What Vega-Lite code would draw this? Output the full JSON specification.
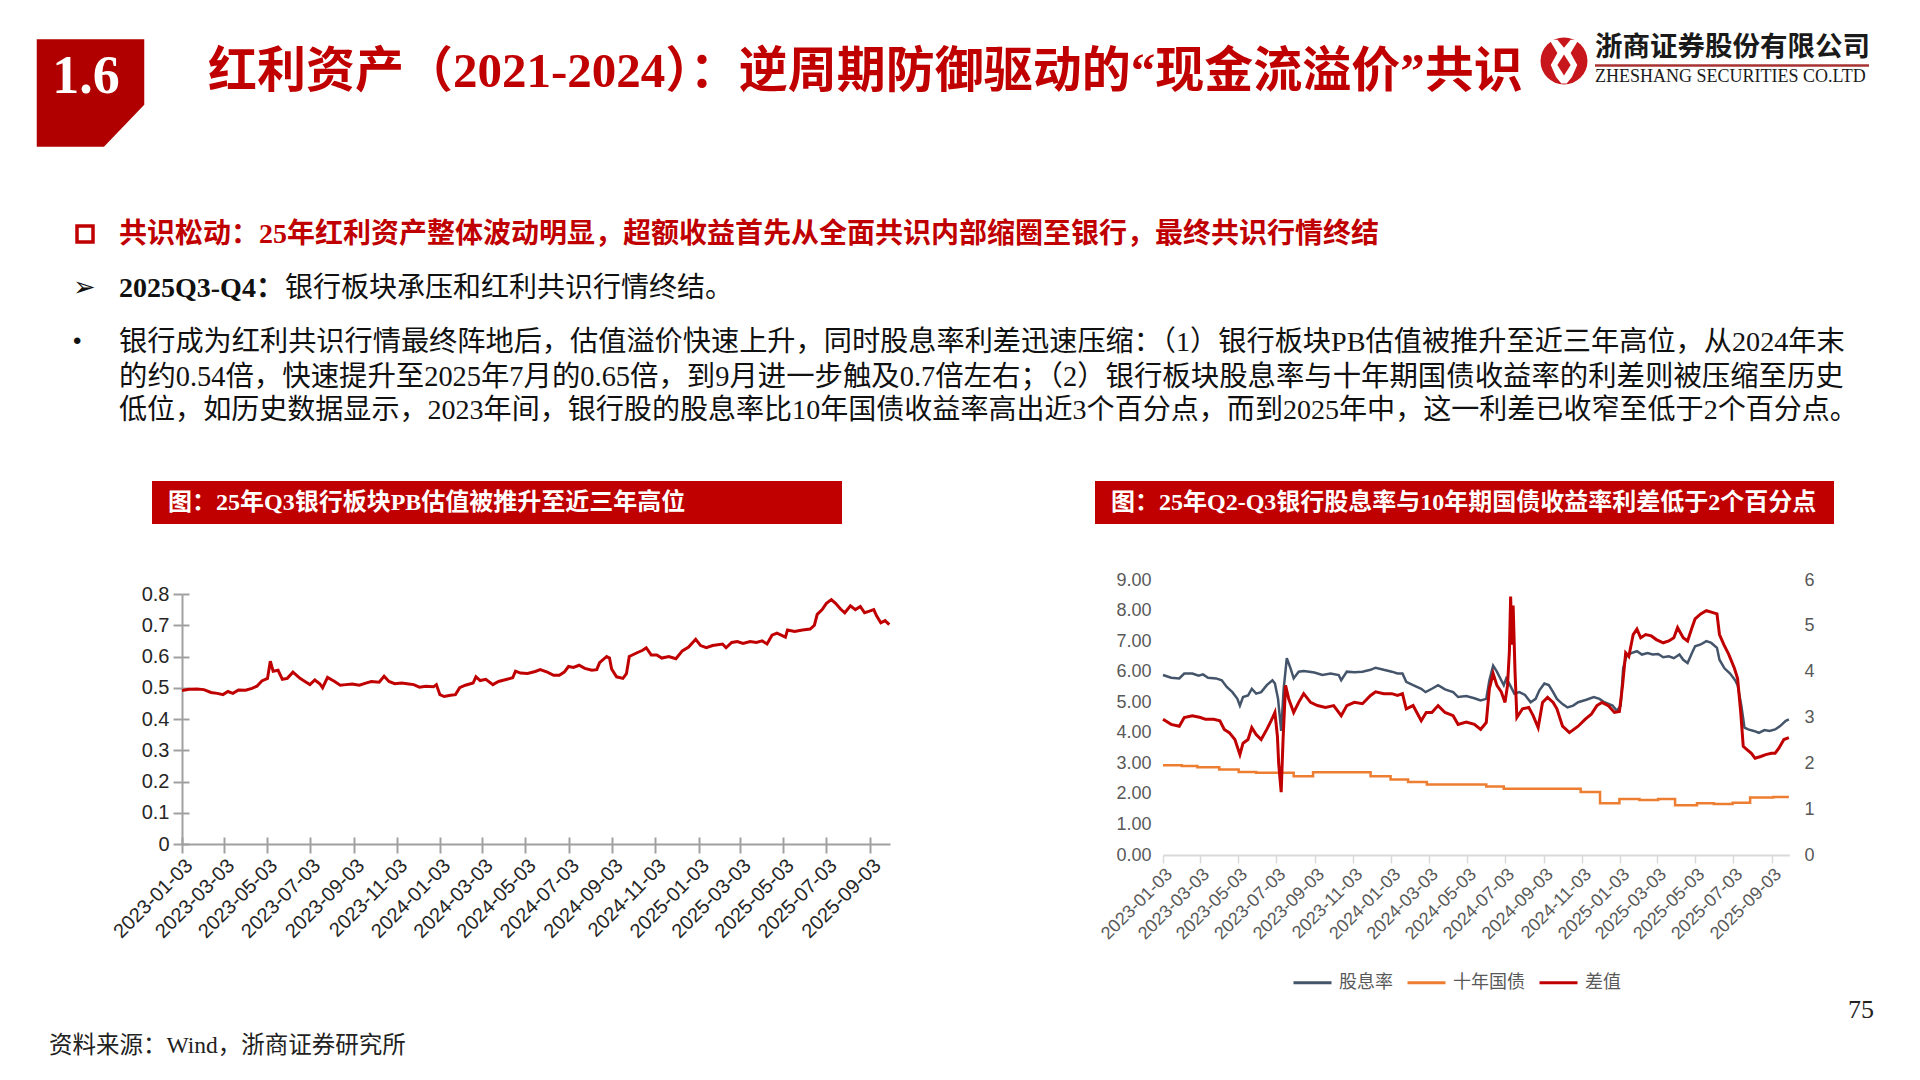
{
  "$schema": "https://vega.github.io/schema/vega-lite/v6.json",
  "width": 1920,
  "height": 1080,
  "autosize": "none",
  "padding": 0,
  "background": "white",
  "config": {"view": {"stroke": null}, "font": "Liberation Sans"},
  "datasets": {
    "pb": [
      {"date": "2023-01-03", "pb": 0.491}, {"date": "2023-01-13", "pb": 0.495}, {"date": "2023-01-24", "pb": 0.496},
      {"date": "2023-02-03", "pb": 0.494}, {"date": "2023-02-13", "pb": 0.485}, {"date": "2023-02-22", "pb": 0.482},
      {"date": "2023-03-02", "pb": 0.478}, {"date": "2023-03-09", "pb": 0.488}, {"date": "2023-03-16", "pb": 0.482},
      {"date": "2023-03-24", "pb": 0.493}, {"date": "2023-04-03", "pb": 0.492}, {"date": "2023-04-12", "pb": 0.498},
      {"date": "2023-04-19", "pb": 0.505}, {"date": "2023-04-26", "pb": 0.522}, {"date": "2023-05-04", "pb": 0.53},
      {"date": "2023-05-08", "pb": 0.585}, {"date": "2023-05-12", "pb": 0.553}, {"date": "2023-05-19", "pb": 0.556},
      {"date": "2023-05-25", "pb": 0.527}, {"date": "2023-06-01", "pb": 0.53}, {"date": "2023-06-09", "pb": 0.55},
      {"date": "2023-06-19", "pb": 0.53}, {"date": "2023-06-26", "pb": 0.52}, {"date": "2023-07-03", "pb": 0.51},
      {"date": "2023-07-10", "pb": 0.525}, {"date": "2023-07-17", "pb": 0.513}, {"date": "2023-07-21", "pb": 0.5},
      {"date": "2023-07-28", "pb": 0.533}, {"date": "2023-08-07", "pb": 0.52}, {"date": "2023-08-15", "pb": 0.508},
      {"date": "2023-08-23", "pb": 0.51}, {"date": "2023-09-01", "pb": 0.512}, {"date": "2023-09-11", "pb": 0.508},
      {"date": "2023-09-20", "pb": 0.515}, {"date": "2023-09-28", "pb": 0.52}, {"date": "2023-10-09", "pb": 0.518},
      {"date": "2023-10-16", "pb": 0.537}, {"date": "2023-10-23", "pb": 0.52}, {"date": "2023-10-31", "pb": 0.513},
      {"date": "2023-11-10", "pb": 0.515}, {"date": "2023-11-20", "pb": 0.512}, {"date": "2023-11-27", "pb": 0.51},
      {"date": "2023-12-05", "pb": 0.502}, {"date": "2023-12-14", "pb": 0.505}, {"date": "2023-12-25", "pb": 0.503},
      {"date": "2023-12-29", "pb": 0.51}, {"date": "2024-01-03", "pb": 0.478}, {"date": "2024-01-09", "pb": 0.472},
      {"date": "2024-01-18", "pb": 0.476}, {"date": "2024-01-25", "pb": 0.478}, {"date": "2024-01-31", "pb": 0.5},
      {"date": "2024-02-08", "pb": 0.508}, {"date": "2024-02-19", "pb": 0.515}, {"date": "2024-02-23", "pb": 0.535},
      {"date": "2024-02-29", "pb": 0.523}, {"date": "2024-03-08", "pb": 0.527}, {"date": "2024-03-18", "pb": 0.51},
      {"date": "2024-03-26", "pb": 0.52}, {"date": "2024-04-03", "pb": 0.525}, {"date": "2024-04-15", "pb": 0.532},
      {"date": "2024-04-19", "pb": 0.553}, {"date": "2024-04-26", "pb": 0.547}, {"date": "2024-05-06", "pb": 0.546},
      {"date": "2024-05-17", "pb": 0.552}, {"date": "2024-05-24", "pb": 0.558}, {"date": "2024-06-03", "pb": 0.55},
      {"date": "2024-06-12", "pb": 0.54}, {"date": "2024-06-20", "pb": 0.54}, {"date": "2024-06-27", "pb": 0.55},
      {"date": "2024-07-03", "pb": 0.568}, {"date": "2024-07-10", "pb": 0.565}, {"date": "2024-07-18", "pb": 0.572},
      {"date": "2024-07-26", "pb": 0.562}, {"date": "2024-08-05", "pb": 0.556}, {"date": "2024-08-12", "pb": 0.558},
      {"date": "2024-08-16", "pb": 0.58}, {"date": "2024-08-26", "pb": 0.6}, {"date": "2024-08-30", "pb": 0.595},
      {"date": "2024-09-02", "pb": 0.56}, {"date": "2024-09-09", "pb": 0.535}, {"date": "2024-09-18", "pb": 0.53},
      {"date": "2024-09-23", "pb": 0.545}, {"date": "2024-09-27", "pb": 0.6}, {"date": "2024-10-08", "pb": 0.612},
      {"date": "2024-10-16", "pb": 0.62}, {"date": "2024-10-21", "pb": 0.628}, {"date": "2024-10-28", "pb": 0.605},
      {"date": "2024-11-05", "pb": 0.605}, {"date": "2024-11-12", "pb": 0.595}, {"date": "2024-11-22", "pb": 0.6},
      {"date": "2024-12-02", "pb": 0.593}, {"date": "2024-12-11", "pb": 0.618}, {"date": "2024-12-20", "pb": 0.63},
      {"date": "2024-12-30", "pb": 0.655}, {"date": "2025-01-06", "pb": 0.635}, {"date": "2025-01-14", "pb": 0.628},
      {"date": "2025-01-23", "pb": 0.635}, {"date": "2025-02-06", "pb": 0.64}, {"date": "2025-02-11", "pb": 0.628},
      {"date": "2025-02-19", "pb": 0.645}, {"date": "2025-02-27", "pb": 0.648}, {"date": "2025-03-07", "pb": 0.642},
      {"date": "2025-03-17", "pb": 0.648}, {"date": "2025-03-26", "pb": 0.645}, {"date": "2025-04-03", "pb": 0.65},
      {"date": "2025-04-10", "pb": 0.64}, {"date": "2025-04-17", "pb": 0.668}, {"date": "2025-04-24", "pb": 0.675},
      {"date": "2025-05-06", "pb": 0.662}, {"date": "2025-05-09", "pb": 0.685}, {"date": "2025-05-19", "pb": 0.68},
      {"date": "2025-05-30", "pb": 0.685}, {"date": "2025-06-10", "pb": 0.688}, {"date": "2025-06-16", "pb": 0.7},
      {"date": "2025-06-20", "pb": 0.735}, {"date": "2025-06-27", "pb": 0.75}, {"date": "2025-07-03", "pb": 0.77},
      {"date": "2025-07-10", "pb": 0.782}, {"date": "2025-07-16", "pb": 0.77}, {"date": "2025-07-23", "pb": 0.752},
      {"date": "2025-07-29", "pb": 0.74}, {"date": "2025-08-06", "pb": 0.762}, {"date": "2025-08-13", "pb": 0.75},
      {"date": "2025-08-20", "pb": 0.76}, {"date": "2025-08-26", "pb": 0.74}, {"date": "2025-09-02", "pb": 0.745},
      {"date": "2025-09-08", "pb": 0.75}, {"date": "2025-09-12", "pb": 0.73}, {"date": "2025-09-18", "pb": 0.708},
      {"date": "2025-09-24", "pb": 0.715}, {"date": "2025-09-30", "pb": 0.702}
    ],
    "dividend": [
      {"date": "2023-01-03", "v": 5.89}, {"date": "2023-01-16", "v": 5.8}, {"date": "2023-01-29", "v": 5.78},
      {"date": "2023-02-06", "v": 5.94}, {"date": "2023-02-19", "v": 5.94}, {"date": "2023-03-01", "v": 5.87},
      {"date": "2023-03-08", "v": 5.91}, {"date": "2023-03-16", "v": 5.8}, {"date": "2023-03-29", "v": 5.78},
      {"date": "2023-04-07", "v": 5.72}, {"date": "2023-04-15", "v": 5.5}, {"date": "2023-04-24", "v": 5.33},
      {"date": "2023-05-02", "v": 5.11}, {"date": "2023-05-06", "v": 4.89}, {"date": "2023-05-11", "v": 5.17},
      {"date": "2023-05-19", "v": 5.22}, {"date": "2023-05-25", "v": 5.44}, {"date": "2023-06-01", "v": 5.28},
      {"date": "2023-06-09", "v": 5.33}, {"date": "2023-06-18", "v": 5.56}, {"date": "2023-06-27", "v": 5.72},
      {"date": "2023-07-01", "v": 5.61}, {"date": "2023-07-06", "v": 5.11}, {"date": "2023-07-11", "v": 4.06},
      {"date": "2023-07-15", "v": 5.44}, {"date": "2023-07-20", "v": 6.44}, {"date": "2023-07-26", "v": 6.11},
      {"date": "2023-07-31", "v": 5.78}, {"date": "2023-08-08", "v": 6.0}, {"date": "2023-08-16", "v": 6.02},
      {"date": "2023-08-25", "v": 6.0}, {"date": "2023-09-02", "v": 5.97}, {"date": "2023-09-15", "v": 5.89},
      {"date": "2023-09-28", "v": 5.94}, {"date": "2023-10-11", "v": 5.89}, {"date": "2023-10-15", "v": 5.72},
      {"date": "2023-10-24", "v": 6.0}, {"date": "2023-11-05", "v": 5.98}, {"date": "2023-11-18", "v": 6.0},
      {"date": "2023-12-01", "v": 6.06}, {"date": "2023-12-09", "v": 6.13}, {"date": "2023-12-22", "v": 6.06},
      {"date": "2024-01-04", "v": 6.0}, {"date": "2024-01-13", "v": 5.94}, {"date": "2024-01-21", "v": 5.94},
      {"date": "2024-01-27", "v": 5.67}, {"date": "2024-02-07", "v": 5.56}, {"date": "2024-02-20", "v": 5.44},
      {"date": "2024-02-27", "v": 5.33}, {"date": "2024-03-08", "v": 5.44}, {"date": "2024-03-18", "v": 5.56},
      {"date": "2024-03-29", "v": 5.42}, {"date": "2024-04-11", "v": 5.33}, {"date": "2024-04-19", "v": 5.17},
      {"date": "2024-05-02", "v": 5.2}, {"date": "2024-05-15", "v": 5.13}, {"date": "2024-05-25", "v": 5.06},
      {"date": "2024-06-03", "v": 5.11}, {"date": "2024-06-08", "v": 5.72}, {"date": "2024-06-14", "v": 6.2},
      {"date": "2024-06-20", "v": 6.0}, {"date": "2024-06-27", "v": 5.72}, {"date": "2024-07-01", "v": 5.56},
      {"date": "2024-07-05", "v": 5.78}, {"date": "2024-07-10", "v": 5.6}, {"date": "2024-07-18", "v": 5.28},
      {"date": "2024-07-26", "v": 5.33}, {"date": "2024-08-04", "v": 5.24}, {"date": "2024-08-13", "v": 5.0},
      {"date": "2024-08-21", "v": 5.11}, {"date": "2024-08-27", "v": 5.39}, {"date": "2024-09-04", "v": 5.61},
      {"date": "2024-09-11", "v": 5.56}, {"date": "2024-09-18", "v": 5.33}, {"date": "2024-09-24", "v": 5.11},
      {"date": "2024-10-03", "v": 4.94}, {"date": "2024-10-11", "v": 4.83}, {"date": "2024-10-20", "v": 4.89},
      {"date": "2024-10-28", "v": 5.0}, {"date": "2024-11-10", "v": 5.08}, {"date": "2024-11-22", "v": 5.17},
      {"date": "2024-12-01", "v": 5.11}, {"date": "2024-12-09", "v": 5.0}, {"date": "2024-12-22", "v": 4.89},
      {"date": "2024-12-29", "v": 4.72}, {"date": "2025-01-04", "v": 4.89}, {"date": "2025-01-08", "v": 6.11},
      {"date": "2025-01-13", "v": 6.5}, {"date": "2025-01-21", "v": 6.61}, {"date": "2025-01-30", "v": 6.67},
      {"date": "2025-02-07", "v": 6.56}, {"date": "2025-02-16", "v": 6.61}, {"date": "2025-02-24", "v": 6.56},
      {"date": "2025-03-05", "v": 6.58}, {"date": "2025-03-13", "v": 6.47}, {"date": "2025-03-22", "v": 6.5},
      {"date": "2025-03-30", "v": 6.44}, {"date": "2025-04-08", "v": 6.56}, {"date": "2025-04-14", "v": 6.39},
      {"date": "2025-04-21", "v": 6.28}, {"date": "2025-04-28", "v": 6.61}, {"date": "2025-05-03", "v": 6.83},
      {"date": "2025-05-12", "v": 6.89}, {"date": "2025-05-21", "v": 7.0}, {"date": "2025-05-29", "v": 6.94},
      {"date": "2025-06-07", "v": 6.78}, {"date": "2025-06-11", "v": 6.39}, {"date": "2025-06-19", "v": 6.11},
      {"date": "2025-06-28", "v": 5.94}, {"date": "2025-07-06", "v": 5.72}, {"date": "2025-07-10", "v": 5.56},
      {"date": "2025-07-16", "v": 4.89}, {"date": "2025-07-21", "v": 4.17}, {"date": "2025-07-27", "v": 4.11},
      {"date": "2025-08-05", "v": 4.06}, {"date": "2025-08-13", "v": 4.0}, {"date": "2025-08-22", "v": 4.09},
      {"date": "2025-08-30", "v": 4.06}, {"date": "2025-09-08", "v": 4.11}, {"date": "2025-09-16", "v": 4.22},
      {"date": "2025-09-25", "v": 4.39}, {"date": "2025-09-30", "v": 4.44}
    ],
    "bond": [
      {"date": "2023-01-03", "v": 2.94}, {"date": "2023-02-02", "v": 2.91}, {"date": "2023-02-27", "v": 2.87},
      {"date": "2023-04-03", "v": 2.8}, {"date": "2023-05-04", "v": 2.72}, {"date": "2023-06-01", "v": 2.69},
      {"date": "2023-07-31", "v": 2.58}, {"date": "2023-08-31", "v": 2.71}, {"date": "2023-12-01", "v": 2.58},
      {"date": "2024-01-02", "v": 2.47}, {"date": "2024-01-30", "v": 2.39}, {"date": "2024-02-29", "v": 2.31},
      {"date": "2024-06-03", "v": 2.24}, {"date": "2024-07-01", "v": 2.17}, {"date": "2024-11-01", "v": 2.06},
      {"date": "2024-12-02", "v": 1.69}, {"date": "2025-01-02", "v": 1.83}, {"date": "2025-02-03", "v": 1.8},
      {"date": "2025-03-05", "v": 1.83}, {"date": "2025-04-01", "v": 1.63}, {"date": "2025-05-06", "v": 1.69},
      {"date": "2025-06-02", "v": 1.67}, {"date": "2025-07-02", "v": 1.71}, {"date": "2025-07-30", "v": 1.88},
      {"date": "2025-09-05", "v": 1.9}, {"date": "2025-09-30", "v": 1.9}
    ],
    "spread": [
      {"date": "2023-01-03", "v": 2.96}, {"date": "2023-01-16", "v": 2.85}, {"date": "2023-01-29", "v": 2.81},
      {"date": "2023-02-06", "v": 3.0}, {"date": "2023-02-19", "v": 3.04}, {"date": "2023-03-04", "v": 3.0},
      {"date": "2023-03-12", "v": 2.96}, {"date": "2023-03-25", "v": 2.96}, {"date": "2023-04-04", "v": 2.93},
      {"date": "2023-04-11", "v": 2.74}, {"date": "2023-04-19", "v": 2.67}, {"date": "2023-04-28", "v": 2.52},
      {"date": "2023-05-06", "v": 2.19}, {"date": "2023-05-11", "v": 2.44}, {"date": "2023-05-19", "v": 2.52},
      {"date": "2023-05-25", "v": 2.78}, {"date": "2023-06-01", "v": 2.63}, {"date": "2023-06-09", "v": 2.52},
      {"date": "2023-06-18", "v": 2.74}, {"date": "2023-06-25", "v": 2.93}, {"date": "2023-07-01", "v": 3.11},
      {"date": "2023-07-05", "v": 2.59}, {"date": "2023-07-07", "v": 2.0}, {"date": "2023-07-11", "v": 1.37},
      {"date": "2023-07-14", "v": 2.52}, {"date": "2023-07-18", "v": 3.7}, {"date": "2023-07-23", "v": 3.41},
      {"date": "2023-07-31", "v": 3.11}, {"date": "2023-08-08", "v": 3.33}, {"date": "2023-08-16", "v": 3.52},
      {"date": "2023-08-27", "v": 3.33}, {"date": "2023-09-07", "v": 3.26}, {"date": "2023-09-20", "v": 3.22},
      {"date": "2023-10-03", "v": 3.26}, {"date": "2023-10-15", "v": 3.04}, {"date": "2023-10-24", "v": 3.26},
      {"date": "2023-11-05", "v": 3.33}, {"date": "2023-11-18", "v": 3.3}, {"date": "2023-12-01", "v": 3.48},
      {"date": "2023-12-09", "v": 3.56}, {"date": "2023-12-22", "v": 3.52}, {"date": "2024-01-04", "v": 3.52},
      {"date": "2024-01-13", "v": 3.48}, {"date": "2024-01-21", "v": 3.52}, {"date": "2024-01-27", "v": 3.19},
      {"date": "2024-02-07", "v": 3.26}, {"date": "2024-02-20", "v": 2.93}, {"date": "2024-02-28", "v": 3.11},
      {"date": "2024-03-08", "v": 3.11}, {"date": "2024-03-18", "v": 3.26}, {"date": "2024-03-29", "v": 3.11},
      {"date": "2024-04-11", "v": 3.04}, {"date": "2024-04-19", "v": 2.85}, {"date": "2024-05-02", "v": 2.9},
      {"date": "2024-05-15", "v": 2.85}, {"date": "2024-05-25", "v": 2.74}, {"date": "2024-06-03", "v": 2.89},
      {"date": "2024-06-08", "v": 3.63}, {"date": "2024-06-14", "v": 3.96}, {"date": "2024-06-20", "v": 3.7},
      {"date": "2024-06-27", "v": 3.56}, {"date": "2024-07-03", "v": 3.33}, {"date": "2024-07-07", "v": 3.7},
      {"date": "2024-07-10", "v": 4.44}, {"date": "2024-07-12", "v": 5.64}, {"date": "2024-07-14", "v": 4.59},
      {"date": "2024-07-16", "v": 5.44}, {"date": "2024-07-19", "v": 4.0}, {"date": "2024-07-22", "v": 3.0},
      {"date": "2024-07-31", "v": 3.19}, {"date": "2024-08-10", "v": 3.22}, {"date": "2024-08-17", "v": 3.04},
      {"date": "2024-08-25", "v": 2.78}, {"date": "2024-09-01", "v": 3.33}, {"date": "2024-09-09", "v": 3.44},
      {"date": "2024-09-18", "v": 3.33}, {"date": "2024-09-24", "v": 3.19}, {"date": "2024-10-03", "v": 2.81},
      {"date": "2024-10-14", "v": 2.67}, {"date": "2024-10-28", "v": 2.81}, {"date": "2024-11-08", "v": 2.96},
      {"date": "2024-11-18", "v": 3.07}, {"date": "2024-11-27", "v": 3.26}, {"date": "2024-12-05", "v": 3.33},
      {"date": "2024-12-15", "v": 3.26}, {"date": "2024-12-25", "v": 3.11}, {"date": "2025-01-02", "v": 3.13},
      {"date": "2025-01-07", "v": 3.7}, {"date": "2025-01-12", "v": 4.41}, {"date": "2025-01-17", "v": 4.33},
      {"date": "2025-01-24", "v": 4.81}, {"date": "2025-01-30", "v": 4.93}, {"date": "2025-02-05", "v": 4.74},
      {"date": "2025-02-13", "v": 4.81}, {"date": "2025-02-22", "v": 4.78}, {"date": "2025-03-02", "v": 4.7},
      {"date": "2025-03-13", "v": 4.63}, {"date": "2025-03-22", "v": 4.67}, {"date": "2025-03-30", "v": 4.74},
      {"date": "2025-04-05", "v": 4.96}, {"date": "2025-04-14", "v": 4.74}, {"date": "2025-04-21", "v": 4.67},
      {"date": "2025-04-28", "v": 4.96}, {"date": "2025-05-03", "v": 5.15}, {"date": "2025-05-12", "v": 5.26},
      {"date": "2025-05-21", "v": 5.33}, {"date": "2025-05-29", "v": 5.3}, {"date": "2025-06-07", "v": 5.26},
      {"date": "2025-06-11", "v": 4.81}, {"date": "2025-06-18", "v": 4.59}, {"date": "2025-06-26", "v": 4.37},
      {"date": "2025-07-05", "v": 4.07}, {"date": "2025-07-10", "v": 3.85}, {"date": "2025-07-15", "v": 3.11},
      {"date": "2025-07-19", "v": 2.37}, {"date": "2025-07-25", "v": 2.3}, {"date": "2025-08-01", "v": 2.22},
      {"date": "2025-08-07", "v": 2.11}, {"date": "2025-08-16", "v": 2.15}, {"date": "2025-08-24", "v": 2.19},
      {"date": "2025-09-02", "v": 2.22}, {"date": "2025-09-08", "v": 2.22}, {"date": "2025-09-14", "v": 2.33},
      {"date": "2025-09-22", "v": 2.52}, {"date": "2025-09-30", "v": 2.56}
    ]
  },
  "layer": [
    {
      "data": {"values": [{}]},
      "mark": {"type": "point", "shape": "M-1,-1L1,-1L1,0.22L0.25,1L-1,1Z", "filled": true, "color": "#B00000", "opacity": 1, "strokeWidth": 0, "size": 11556},
      "encoding": {"x": {"value": 90.5}, "y": {"value": 93}}
    },
    {
      "data": {"values": [{}]},
      "mark": {"type": "text", "font": "Liberation Serif", "fontSize": 54, "fontWeight": "bold", "color": "white", "align": "center", "baseline": "middle"},
      "encoding": {"x": {"value": 86}, "y": {"value": 77}, "text": {"value": "1.6"}}
    },
    {
      "data": {"values": [{}]},
      "mark": {"type": "text", "font": "'Liberation Serif', 'Noto Sans CJK SC'", "fontSize": 49, "fontWeight": "bold", "color": "#C00000", "align": "left", "baseline": "middle"},
      "encoding": {"x": {"value": 208}, "y": {"value": 72}, "text": {"value": "红利资产（2021-2024）：逆周期防御驱动的“现金流溢价”共识"}}
    },
    {
      "data": {"values": [{}]},
      "mark": {"type": "point", "shape": "circle", "filled": true, "color": "#C8161D", "opacity": 1, "size": 2206},
      "encoding": {"x": {"value": 1564}, "y": {"value": 61}}
    },
    {
      "data": {"values": [{}]},
      "mark": {"type": "point", "shape": "M-0.55,-0.8L-0.25,-0.8L0,-0.5L0.25,-0.8L0.55,-0.8L0.25,-0.3L0.5,0.15L0.3,0.6L0.1,0.85L-0.1,0.85L-0.3,0.6L-0.5,0.15L-0.25,-0.3Z", "filled": true, "color": "white", "opacity": 1, "size": 2809},
      "encoding": {"x": {"value": 1564}, "y": {"value": 61}}
    },
    {
      "data": {"values": [{}]},
      "mark": {"type": "point", "shape": "M0,-0.25L0.25,0.15L0,0.55L-0.25,0.15Z", "filled": true, "color": "#C8161D", "opacity": 1, "size": 2809},
      "encoding": {"x": {"value": 1564}, "y": {"value": 61}}
    },
    {
      "data": {"values": [{}]},
      "mark": {"type": "text", "font": "Noto Sans CJK SC", "fontSize": 27.5, "fontWeight": "bold", "color": "#1a1a1a", "align": "left", "baseline": "middle"},
      "encoding": {"x": {"value": 1595}, "y": {"value": 48}, "text": {"value": "浙商证券股份有限公司"}}
    },
    {
      "data": {"values": [{}]},
      "mark": {"type": "rule", "color": "#A83232", "strokeWidth": 2.5},
      "encoding": {"x": {"value": 1595}, "x2": {"value": 1869}, "y": {"value": 65.5}, "y2": {"value": 65.5}}
    },
    {
      "data": {"values": [{}]},
      "mark": {"type": "text", "font": "Liberation Serif", "fontSize": 18, "color": "#1a1a1a", "align": "left", "baseline": "middle"},
      "encoding": {"x": {"value": 1595}, "y": {"value": 77}, "text": {"value": "ZHESHANG SECURITIES CO.LTD"}}
    },
    {
      "data": {"values": [{}]},
      "mark": {"type": "point", "shape": "square", "filled": false, "stroke": "#C00000", "strokeWidth": 3.5, "opacity": 1, "size": 256},
      "encoding": {"x": {"value": 85}, "y": {"value": 234}}
    },
    {
      "data": {"values": [{}]},
      "mark": {"type": "text", "font": "'Liberation Serif', 'Noto Sans CJK SC'", "fontSize": 28, "fontWeight": "bold", "color": "#C00000", "align": "left", "baseline": "middle"},
      "encoding": {"x": {"value": 119}, "y": {"value": 235}, "text": {"value": "共识松动：25年红利资产整体波动明显，超额收益首先从全面共识内部缩圈至银行，最终共识行情终结"}}
    },
    {
      "data": {"values": [{}]},
      "mark": {"type": "text", "font": "DejaVu Sans", "fontSize": 27, "color": "#111111", "align": "left", "baseline": "middle"},
      "encoding": {"x": {"value": 73}, "y": {"value": 288}, "text": {"value": "➢"}}
    },
    {
      "data": {"values": [{}]},
      "mark": {"type": "text", "font": "'Liberation Serif', 'Noto Sans CJK SC'", "fontSize": 28, "fontWeight": "bold", "color": "#111111", "align": "left", "baseline": "middle"},
      "encoding": {"x": {"value": 119}, "y": {"value": 289}, "text": {"value": "2025Q3-Q4："}}
    },
    {
      "data": {"values": [{}]},
      "mark": {"type": "text", "font": "'Liberation Serif', 'Noto Sans CJK SC'", "fontSize": 28, "color": "#111111", "align": "left", "baseline": "middle"},
      "encoding": {"x": {"value": 285}, "y": {"value": 289}, "text": {"value": "银行板块承压和红利共识行情终结。"}}
    },
    {
      "data": {"values": [{}]},
      "mark": {"type": "text", "font": "Liberation Sans", "fontSize": 24, "color": "#111111", "align": "left", "baseline": "middle"},
      "encoding": {"x": {"value": 73}, "y": {"value": 342}, "text": {"value": "•"}}
    },
    {
      "data": {"values": [{}]},
      "mark": {"type": "text", "font": "'Liberation Serif', 'Noto Sans CJK SC'", "fontSize": 28.2, "color": "#111111", "align": "left", "baseline": "middle"},
      "encoding": {"x": {"value": 119}, "y": {"value": 342.5}, "text": {"value": "银行成为红利共识行情最终阵地后，估值溢价快速上升，同时股息率利差迅速压缩：（1）银行板块PB估值被推升至近三年高位，从2024年末"}}
    },
    {
      "data": {"values": [{}]},
      "mark": {"type": "text", "font": "'Liberation Serif', 'Noto Sans CJK SC'", "fontSize": 28.4, "color": "#111111", "align": "left", "baseline": "middle"},
      "encoding": {"x": {"value": 119}, "y": {"value": 377}, "text": {"value": "的约0.54倍，快速提升至2025年7月的0.65倍，到9月进一步触及0.7倍左右；（2）银行板块股息率与十年期国债收益率的利差则被压缩至历史"}}
    },
    {
      "data": {"values": [{}]},
      "mark": {"type": "text", "font": "'Liberation Serif', 'Noto Sans CJK SC'", "fontSize": 28.05, "color": "#111111", "align": "left", "baseline": "middle"},
      "encoding": {"x": {"value": 119}, "y": {"value": 410.5}, "text": {"value": "低位，如历史数据显示，2023年间，银行股的股息率比10年国债收益率高出近3个百分点，而到2025年中，这一利差已收窄至低于2个百分点。"}}
    },
    {
      "data": {"values": [{}]},
      "mark": {"type": "rect", "color": "#C00000"},
      "encoding": {"x": {"value": 152}, "x2": {"value": 842}, "y": {"value": 481}, "y2": {"value": 524}}
    },
    {
      "data": {"values": [{}]},
      "mark": {"type": "text", "font": "'Liberation Serif', 'Noto Sans CJK SC'", "fontSize": 24, "fontWeight": "bold", "color": "white", "align": "left", "baseline": "middle"},
      "encoding": {"x": {"value": 168}, "y": {"value": 502.5}, "text": {"value": "图：25年Q3银行板块PB估值被推升至近三年高位"}}
    },
    {
      "data": {"values": [{}]},
      "mark": {"type": "rect", "color": "#C00000"},
      "encoding": {"x": {"value": 1095}, "x2": {"value": 1834}, "y": {"value": 481}, "y2": {"value": 524}}
    },
    {
      "data": {"values": [{}]},
      "mark": {"type": "text", "font": "'Liberation Serif', 'Noto Sans CJK SC'", "fontSize": 24, "fontWeight": "bold", "color": "white", "align": "left", "baseline": "middle"},
      "encoding": {"x": {"value": 1111}, "y": {"value": 502.5}, "text": {"value": "图：25年Q2-Q3银行股息率与10年期国债收益率利差低于2个百分点"}}
    },
    {
      "data": {"values": [{}]},
      "mark": {"type": "text", "font": "'Liberation Serif', 'Noto Sans CJK SC'", "fontSize": 23.5, "color": "#222222", "align": "left", "baseline": "middle"},
      "encoding": {"x": {"value": 49}, "y": {"value": 1046}, "text": {"value": "资料来源：Wind，浙商证券研究所"}}
    },
    {
      "data": {"values": [{}]},
      "mark": {"type": "text", "font": "Liberation Serif", "fontSize": 26, "color": "#222222", "align": "right", "baseline": "middle"},
      "encoding": {"x": {"value": 1874}, "y": {"value": 1010}, "text": {"value": "75"}}
    },
    {
      "data": {"name": "pb"},
      "layer": [
        {
          "mark": {"type": "line", "color": "#C00000", "strokeWidth": 3},
          "encoding": {
            "x": {
              "field": "date", "type": "temporal",
              "scale": {"type": "utc", "domain": [{"year": 2023, "month": 1, "date": 3, "utc": true}, {"year": 2025, "month": 10, "date": 1, "utc": true}], "range": [182, 890]},
              "axis": {
                "orient": "bottom", "offset": -236, "title": null, "grid": false,
                "values": [
                  {"year": 2023, "month": 1, "date": 3, "utc": true}, {"year": 2023, "month": 3, "date": 3, "utc": true},
                  {"year": 2023, "month": 5, "date": 3, "utc": true}, {"year": 2023, "month": 7, "date": 3, "utc": true},
                  {"year": 2023, "month": 9, "date": 3, "utc": true}, {"year": 2023, "month": 11, "date": 3, "utc": true},
                  {"year": 2024, "month": 1, "date": 3, "utc": true}, {"year": 2024, "month": 3, "date": 3, "utc": true},
                  {"year": 2024, "month": 5, "date": 3, "utc": true}, {"year": 2024, "month": 7, "date": 3, "utc": true},
                  {"year": 2024, "month": 9, "date": 3, "utc": true}, {"year": 2024, "month": 11, "date": 3, "utc": true},
                  {"year": 2025, "month": 1, "date": 3, "utc": true}, {"year": 2025, "month": 3, "date": 3, "utc": true},
                  {"year": 2025, "month": 5, "date": 3, "utc": true}, {"year": 2025, "month": 7, "date": 3, "utc": true},
                  {"year": 2025, "month": 9, "date": 3, "utc": true}
                ],
                "format": "%Y-%m-%d", "labelAngle": -45, "labelAlign": "right", "labelBaseline": "top",
                "labelFont": "Liberation Sans", "labelFontSize": 20, "labelColor": "#262626", "labelPadding": 2,
                "labelOverlap": false, "labelBound": false, "labelFlush": false,
                "domainColor": "#A0A0A0", "domainWidth": 2, "tickColor": "#A0A0A0", "tickWidth": 2, "tickSize": 9
              }
            },
            "y": {
              "field": "pb", "type": "quantitative",
              "scale": {"domain": [0, 0.8], "range": [844, 594], "nice": false, "zero": false},
              "axis": {
                "orient": "left", "offset": -182, "title": null, "grid": false,
                "values": [0, 0.1, 0.2, 0.3, 0.4, 0.5, 0.6, 0.7, 0.8], "format": ".1~f",
                "labelFont": "Liberation Sans", "labelFontSize": 20, "labelColor": "#262626", "labelPadding": 4,
                "domainColor": "#A0A0A0", "domainWidth": 2, "tickColor": "#A0A0A0", "tickWidth": 2, "tickSize": 9
              }
            }
          }
        },
        {
          "mark": {"type": "line", "opacity": 0},
          "encoding": {
            "x": {
              "field": "date", "type": "temporal",
              "scale": {"type": "utc", "domain": [{"year": 2023, "month": 1, "date": 3, "utc": true}, {"year": 2025, "month": 10, "date": 1, "utc": true}], "range": [182, 890]},
              "axis": {
                "orient": "bottom", "offset": -243, "title": null, "grid": false, "labels": false, "domain": false,
                "values": [
                  {"year": 2023, "month": 1, "date": 3, "utc": true}, {"year": 2023, "month": 3, "date": 3, "utc": true},
                  {"year": 2023, "month": 5, "date": 3, "utc": true}, {"year": 2023, "month": 7, "date": 3, "utc": true},
                  {"year": 2023, "month": 9, "date": 3, "utc": true}, {"year": 2023, "month": 11, "date": 3, "utc": true},
                  {"year": 2024, "month": 1, "date": 3, "utc": true}, {"year": 2024, "month": 3, "date": 3, "utc": true},
                  {"year": 2024, "month": 5, "date": 3, "utc": true}, {"year": 2024, "month": 7, "date": 3, "utc": true},
                  {"year": 2024, "month": 9, "date": 3, "utc": true}, {"year": 2024, "month": 11, "date": 3, "utc": true},
                  {"year": 2025, "month": 1, "date": 3, "utc": true}, {"year": 2025, "month": 3, "date": 3, "utc": true},
                  {"year": 2025, "month": 5, "date": 3, "utc": true}, {"year": 2025, "month": 7, "date": 3, "utc": true},
                  {"year": 2025, "month": 9, "date": 3, "utc": true}
                ],
                "tickColor": "#A0A0A0", "tickWidth": 2, "tickSize": 7
              }
            },
            "y": {
              "field": "pb", "type": "quantitative",
              "scale": {"domain": [0, 0.8], "range": [844, 594], "nice": false, "zero": false},
              "axis": {
                "orient": "left", "offset": -189, "title": null, "grid": false, "labels": false, "domain": false,
                "values": [0, 0.1, 0.2, 0.3, 0.4, 0.5, 0.6, 0.7, 0.8],
                "tickColor": "#A0A0A0", "tickWidth": 2, "tickSize": 7
              }
            }
          }
        }
      ],
      "resolve": {"axis": {"x": "independent", "y": "independent"}}
    },
    {
      "layer": [
        {
          "data": {"name": "dividend"},
          "mark": {"type": "line", "strokeWidth": 2.5},
          "encoding": {
            "x": {
              "field": "date", "type": "temporal",
              "scale": {"type": "utc", "domain": [{"year": 2023, "month": 1, "date": 3, "utc": true}, {"year": 2025, "month": 10, "date": 1, "utc": true}], "range": [1163, 1789.5]},
              "axis": {
                "orient": "bottom", "offset": -225, "title": null, "grid": false,
                "values": [
                  {"year": 2023, "month": 1, "date": 3, "utc": true}, {"year": 2023, "month": 3, "date": 3, "utc": true},
                  {"year": 2023, "month": 5, "date": 3, "utc": true}, {"year": 2023, "month": 7, "date": 3, "utc": true},
                  {"year": 2023, "month": 9, "date": 3, "utc": true}, {"year": 2023, "month": 11, "date": 3, "utc": true},
                  {"year": 2024, "month": 1, "date": 3, "utc": true}, {"year": 2024, "month": 3, "date": 3, "utc": true},
                  {"year": 2024, "month": 5, "date": 3, "utc": true}, {"year": 2024, "month": 7, "date": 3, "utc": true},
                  {"year": 2024, "month": 9, "date": 3, "utc": true}, {"year": 2024, "month": 11, "date": 3, "utc": true},
                  {"year": 2025, "month": 1, "date": 3, "utc": true}, {"year": 2025, "month": 3, "date": 3, "utc": true},
                  {"year": 2025, "month": 5, "date": 3, "utc": true}, {"year": 2025, "month": 7, "date": 3, "utc": true},
                  {"year": 2025, "month": 9, "date": 3, "utc": true}
                ],
                "format": "%Y-%m-%d", "labelAngle": -45, "labelAlign": "right", "labelBaseline": "top",
                "labelFont": "Liberation Sans", "labelFontSize": 18, "labelColor": "#595959", "labelPadding": 2,
                "labelOverlap": false, "labelBound": false, "labelFlush": false,
                "domainColor": "#D9D9D9", "domainWidth": 2, "tickColor": "#D9D9D9", "tickWidth": 1.5, "tickSize": 8
              }
            },
            "y": {
              "field": "v", "type": "quantitative",
              "scale": {"domain": [0, 9], "range": [855, 580], "nice": false, "zero": false},
              "axis": {
                "orient": "left", "offset": -1163, "title": null, "grid": false, "domain": false, "ticks": false, "tickSize": 0,
                "values": [0, 1, 2, 3, 4, 5, 6, 7, 8, 9], "format": ".2f",
                "labelFont": "Liberation Sans", "labelFontSize": 18, "labelColor": "#595959", "labelPadding": 12
              }
            },
            "color": {
              "datum": "股息率", "type": "nominal",
              "scale": {"domain": ["股息率", "十年国债", "差值"], "range": ["#44546A", "#ED7D31", "#C00000"]},
              "legend": {"title": null, "orient": "none", "legendX": 1292, "legendY": 962, "direction": "horizontal", "symbolType": "stroke", "symbolSize": 1444, "symbolStrokeWidth": 3, "labelFont": "Noto Sans CJK SC", "labelFontSize": 18, "labelColor": "#595959", "labelOffset": 6, "columnPadding": 8}
            }
          }
        },
        {
          "data": {"name": "bond"},
          "mark": {"type": "line", "strokeWidth": 2.5, "interpolate": "step-after"},
          "encoding": {
            "x": {
              "field": "date", "type": "temporal", "axis": null,
              "scale": {"type": "utc", "domain": [{"year": 2023, "month": 1, "date": 3, "utc": true}, {"year": 2025, "month": 10, "date": 1, "utc": true}], "range": [1163, 1789.5]}
            },
            "y": {
              "field": "v", "type": "quantitative", "axis": null,
              "scale": {"domain": [0, 9], "range": [855, 580], "nice": false, "zero": false}
            },
            "color": {
              "datum": "十年国债", "type": "nominal",
              "scale": {"domain": ["股息率", "十年国债", "差值"], "range": ["#44546A", "#ED7D31", "#C00000"]},
              "legend": {"title": null, "orient": "none", "legendX": 1292, "legendY": 962, "direction": "horizontal", "symbolType": "stroke", "symbolSize": 1444, "symbolStrokeWidth": 3, "labelFont": "Noto Sans CJK SC", "labelFontSize": 18, "labelColor": "#595959", "labelOffset": 6, "columnPadding": 8}
            }
          }
        },
        {
          "data": {"name": "spread"},
          "mark": {"type": "line", "strokeWidth": 3},
          "encoding": {
            "x": {
              "field": "date", "type": "temporal", "axis": null,
              "scale": {"type": "utc", "domain": [{"year": 2023, "month": 1, "date": 3, "utc": true}, {"year": 2025, "month": 10, "date": 1, "utc": true}], "range": [1163, 1789.5]}
            },
            "y": {
              "field": "v", "type": "quantitative",
              "scale": {"domain": [0, 6], "range": [855, 580], "nice": false, "zero": false},
              "axis": {
                "orient": "right", "offset": -128, "title": null, "grid": false, "domain": false, "ticks": false, "tickSize": 0,
                "values": [0, 1, 2, 3, 4, 5, 6], "format": "d",
                "labelFont": "Liberation Sans", "labelFontSize": 18, "labelColor": "#595959", "labelPadding": 12
              }
            },
            "color": {
              "datum": "差值", "type": "nominal",
              "scale": {"domain": ["股息率", "十年国债", "差值"], "range": ["#44546A", "#ED7D31", "#C00000"]},
              "legend": {"title": null, "orient": "none", "legendX": 1292, "legendY": 962, "direction": "horizontal", "symbolType": "stroke", "symbolSize": 1444, "symbolStrokeWidth": 3, "labelFont": "Noto Sans CJK SC", "labelFontSize": 18, "labelColor": "#595959", "labelOffset": 6, "columnPadding": 8}
            }
          }
        }
      ],
      "resolve": {"scale": {"y": "independent"}, "axis": {"x": "independent"}}
    }
  ],
  "resolve": {"scale": {"x": "independent", "y": "independent"}}
}
